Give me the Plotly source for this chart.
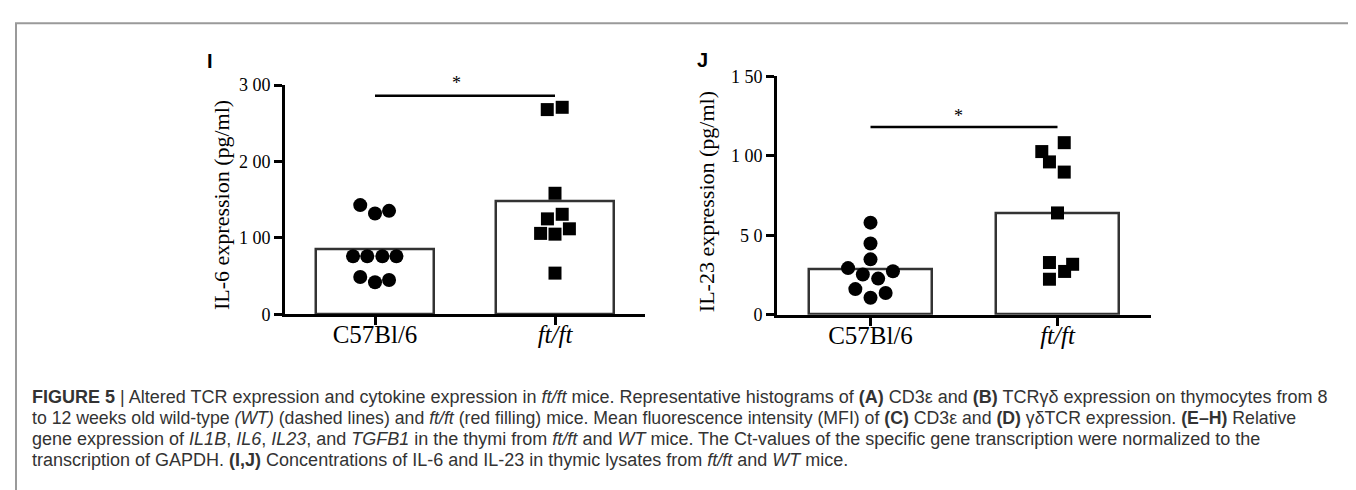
import plotly.graph_objects as go

W, H = 1356, 490

# ---------------- data ----------------
groups = ["C57Bl/6", "ft/ft"]
group_ticktext = ["C57Bl/6", "<i>ft/ft</i>"]

# Panel I : IL-6 (pg/ml)
il6_bar = [85.5, 148.0]
il6_wt = [143, 132, 135.5, 76, 76, 76, 76, 49, 42, 45]
il6_wt_jit = [-0.082, 0.0, 0.078, -0.122, -0.043, 0.041, 0.119, -0.082, 0.0, 0.078]
il6_ft = [268, 271, 158.5, 125, 131, 106, 105, 112, 54]
il6_ft_jit = [-0.043, 0.04, 0.0, -0.042, 0.04, -0.08, 0.0, 0.08, 0.0]
il6_sig = 286
il6_ticks = [0, 100, 200, 300]
il6_ticktext = ["0", "1 00", "2 00", "3 00"]

# Panel J : IL-23 (pg/ml)
il23_bar = [28.3, 64.0]
il23_wt = [57.9, 44.8, 34.8, 29.3, 27.3, 25.3, 22.7, 16.1, 13.6, 10.6]
il23_wt_jit = [0.0, 0.0, 0.0, -0.12, 0.12, -0.041, 0.041, -0.081, 0.081, 0.0]
il23_ft = [108.2, 102.6, 96.1, 89.7, 64.0, 31.7, 32.8, 27.2, 22.3]
il23_ft_jit = [0.036, -0.084, -0.043, 0.036, 0.0, 0.081, -0.043, 0.038, -0.043]
il23_sig = 118
il23_ticks = [0, 50, 100, 150]
il23_ticktext = ["0", "5 0", "1 00", "1 50"]

caption_lines = [
    "<b>FIGURE 5</b> | Altered TCR expression and cytokine expression in <i>ft/ft</i> mice. Representative histograms of <b>(A)</b> CD3ε and <b>(B)</b> TCRγδ expression on thymocytes from 8",
    "to 12 weeks old wild-type <i>(WT)</i> (dashed lines) and <i>ft/ft</i> (red filling) mice. Mean fluorescence intensity (MFI) of <b>(C)</b> CD3ε and <b>(D)</b> γδTCR expression. <b>(E–H)</b> Relative",
    "gene expression of <i>IL1B</i>, <i>IL6</i>, <i>IL23</i>, and <i>TGFB1</i> in the thymi from <i>ft/ft</i> and <i>WT</i> mice. The Ct-values of the specific gene transcription were normalized to the",
    "transcription of GAPDH. <b>(I,J)</b> Concentrations of IL-6 and IL-23 in thymic lysates from <i>ft/ft</i> and <i>WT</i> mice.",
]

SERIF = "Liberation Serif, Times New Roman, serif"
SANS = "Liberation Sans, Arial, sans-serif"


def px(x):
    return x / W


def py(y):
    return 1 - y / H


fig = go.Figure()


def add_panel(xa, ya, bars, wt, wt_j, ft, ft_j, sig):
    xr = "x" if xa == 1 else f"x{xa}"
    yr = "y" if ya == 1 else f"y{ya}"
    fig.add_trace(go.Bar(x=[0, 1], y=bars, width=0.66,
                         marker=dict(color="white", line=dict(color="#333333", width=2.5)),
                         xaxis=xr, yaxis=yr, showlegend=False, hoverinfo="skip"))
    fig.add_trace(go.Scatter(x=[0 + j for j in wt_j], y=wt, mode="markers",
                             marker=dict(symbol="circle", size=14, color="black"),
                             xaxis=xr, yaxis=yr, showlegend=False, cliponaxis=False))
    fig.add_trace(go.Scatter(x=[1 + j for j in ft_j], y=ft, mode="markers",
                             marker=dict(symbol="square", size=13, color="black"),
                             xaxis=xr, yaxis=yr, showlegend=False, cliponaxis=False))
    fig.add_trace(go.Scatter(x=[0, 1], y=[sig, sig], mode="lines",
                             line=dict(color="black", width=2.5),
                             xaxis=xr, yaxis=yr, showlegend=False, cliponaxis=False))


add_panel(1, 1, il6_bar, il6_wt, il6_wt_jit, il6_ft, il6_ft_jit, il6_sig)
add_panel(2, 2, il23_bar, il23_wt, il23_wt_jit, il23_ft, il23_ft_jit, il23_sig)

xaxis_common = dict(range=[-0.5, 1.5], tickvals=[0, 1], ticktext=group_ticktext,
                    showline=True, linecolor="black", linewidth=3, ticks="outside",
                    ticklen=8, tickwidth=2.5, tickcolor="black", showgrid=False,
                    zeroline=False, tickfont=dict(family=SERIF, size=25, color="black"),
                    ticklabelstandoff=-12, fixedrange=True)
yaxis_common = dict(showline=True, linecolor="black", linewidth=3, ticks="outside",
                    ticklen=8, tickwidth=2.5, tickcolor="black", showgrid=False,
                    zeroline=False, tickfont=dict(family=SERIF, size=18, color="black"),
                    fixedrange=True)

fig.update_layout(
    width=W, height=H, margin=dict(l=0, r=0, t=0, b=0),
    paper_bgcolor="white", plot_bgcolor="white",
    xaxis=dict(domain=[px(277), px(637)], anchor="y", **xaxis_common),
    yaxis=dict(domain=[py(309), py(70)], anchor="x", range=[0, 300],
               tickvals=il6_ticks, ticktext=il6_ticktext, **yaxis_common),
    xaxis2=dict(domain=[px(769), px(1143)], anchor="y2", **xaxis_common),
    yaxis2=dict(domain=[py(309.3), py(60.7)], anchor="x2", range=[0, 150],
                tickvals=il23_ticks, ticktext=il23_ticktext, **yaxis_common),
    bargap=0,
)

annotations = [
    # axis titles
    dict(text="IL-6 expression (pg/ml)", xref="paper", yref="paper", x=px(213), y=py(195),
         textangle=-90, showarrow=False, xanchor="center", yanchor="middle",
         font=dict(family=SERIF, size=22, color="black")),
    dict(text="IL-23 expression (pg/ml)", xref="paper", yref="paper", x=px(698), y=py(192),
         textangle=-90, showarrow=False, xanchor="center", yanchor="middle",
         font=dict(family=SERIF, size=22, color="black")),
    # panel letters
    dict(text="<b>I</b>", xref="paper", yref="paper", x=px(202), y=py(45), showarrow=False,
         xanchor="center", yanchor="middle", font=dict(family=SANS, size=20, color="black")),
    dict(text="<b>J</b>", xref="paper", yref="paper", x=px(694), y=py(44), showarrow=False,
         xanchor="center", yanchor="middle", font=dict(family=SANS, size=20, color="black")),
    # significance stars
    dict(text="*", xref="x", yref="y", x=0.45, y=il6_sig, yshift=13, showarrow=False,
         xanchor="center", yanchor="middle", font=dict(family=SERIF, size=18, color="black")),
    dict(text="*", xref="x2", yref="y2", x=0.47, y=il23_sig, yshift=11, showarrow=False,
         xanchor="center", yanchor="middle", font=dict(family=SERIF, size=18, color="black")),
]

cap_y = [395, 417, 439, 461]
cap_size = [18, 17.7, 18, 18]
for line, yy, fs in zip(caption_lines, cap_y, cap_size):
    annotations.append(dict(text=line, xref="paper", yref="paper", x=px(22), y=py(yy),
                            showarrow=False, xanchor="left", yanchor="middle", align="left",
                            font=dict(family=SANS, size=fs, color="#333333")))

fig.update_layout(annotations=annotations)

# grey frame around the figure
fig.add_shape(type="rect", xref="paper", yref="paper", x0=px(8), x1=px(1353),
              y0=-0.05, y1=py(5.5), line=dict(color="#9a9a9a", width=2), layer="below")

fig.write_html("out.html")
